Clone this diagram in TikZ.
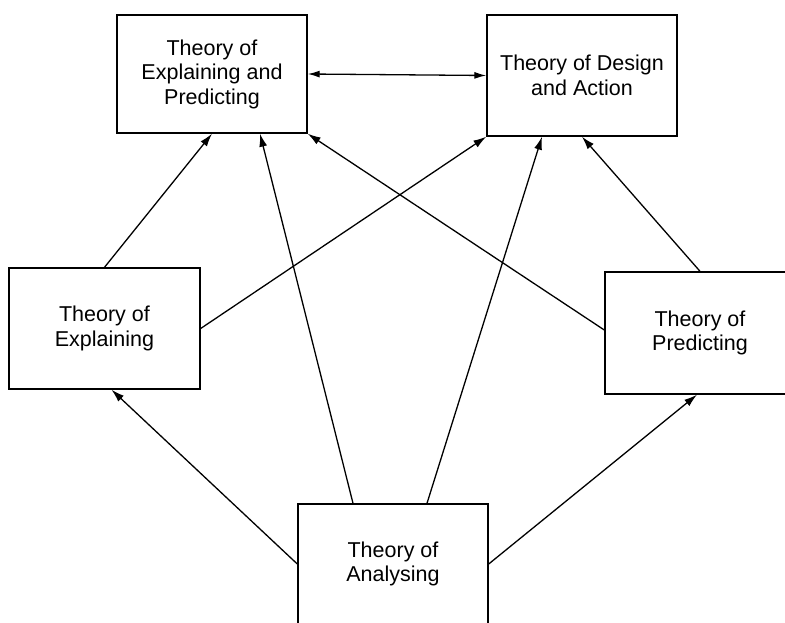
\documentclass[tikz,border=0pt]{standalone}
\usepackage{fontspec}
\setmainfont{Liberation Sans}
\usetikzlibrary{arrows.meta}
\begin{document}
\begin{tikzpicture}[x=1pt,y=1pt,
  box/.style={draw=black,line width=1.4pt,rectangle,align=center,inner sep=0pt,
    font=\fontsize{21.5}{24.5}\selectfont},
  arr/.style={line width=1.3pt,-{Latex[length=13pt,width=8pt]}},
  darr/.style={line width=1.3pt,{Latex[length=12pt,width=7pt]}-{Latex[length=12pt,width=7pt]}}]
\useasboundingbox (0,0) rectangle (785,622);
\clip (0,0) rectangle (785,622);
\node[box,minimum width=190pt,minimum height=118pt] (ep) at (212,548) {Theory of\\Explaining and\\Predicting};
\node[box,minimum width=190pt,minimum height=121pt] (da) at (582,546.5) {Theory of Design\\and Action};
\node[box,minimum width=191pt,minimum height=121pt] (ex) at (104.5,293.5) {Theory of\\Explaining};
\node[box,minimum width=190pt,minimum height=122pt] (pr) at (700,289) {Theory of\\Predicting};
\node[box,minimum width=190pt,minimum height=120pt] (an) at (393,58) {Theory of\\Analysing};
\draw[darr] (ep.east) -- (da.west);
\draw[arr] (ex.north) -- (ep.south);
\draw[arr] ([xshift=-40pt]an.north) -- ([xshift=48pt]ep.south);
\draw[arr] (ex.east) -- (da.south west);
\draw[arr] ([yshift=3pt]pr.west) -- (ep.south east);
\draw[arr] ([xshift=34pt]an.north) -- ([xshift=-40pt]da.south);
\draw[arr] (pr.north) -- (da.south);
\draw[arr] (an.west) -- ([xshift=7pt]ex.south);
\draw[arr] (an.east) -- ([xshift=-3pt]pr.south);
\end{tikzpicture}
\end{document}
